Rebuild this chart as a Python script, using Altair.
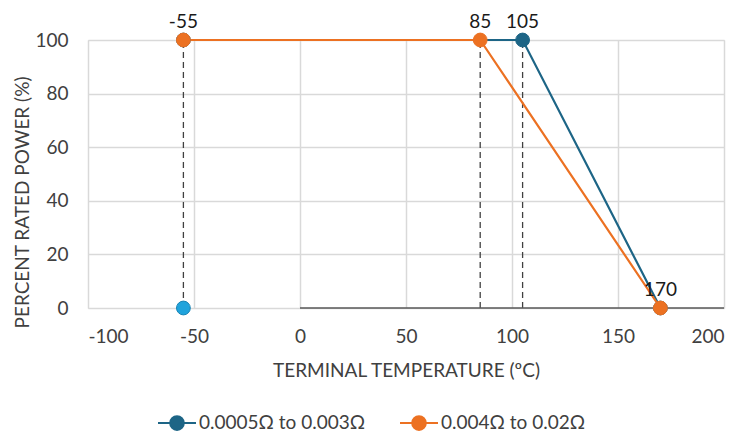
import altair as alt
import pandas as pd

series_names = ["0.0005Ω to 0.003Ω", "0.004Ω to 0.02Ω"]
series_colors = ["#1d6586", "#ec7122"]

temps_a = [-55, 105, 170]
power_a = [100, 100, 0]
temps_b = [-55, 85, 170]
power_b = [100, 100, 0]

extra_x = [-55]
extra_y = [0]

label_x = [-55, 85, 105, 170]
label_y = [100, 100, 100, 0]
label_text = ["-55", "85", "105", "170"]

dash_x = [-55, 85, 105]

x_ticks = [-100, -50, 0, 50, 100, 150, 200]
y_ticks = [0, 20, 40, 60, 80, 100]

FONT = "Lato"
FS = 19

series_df = pd.DataFrame(
    {
        "t": temps_a + temps_b,
        "p": power_a + power_b,
        "series": [series_names[0]] * len(temps_a) + [series_names[1]] * len(temps_b),
        "order": list(range(len(temps_a))) + list(range(len(temps_b))),
    }
)
extra_df = pd.DataFrame({"t": extra_x, "p": extra_y})
label_df = pd.DataFrame({"t": label_x, "p": label_y, "label": label_text})
dash_df = pd.DataFrame({"t": dash_x, "p0": [0] * len(dash_x), "p1": [100] * len(dash_x)})
axis_df = pd.DataFrame({"t0": [0], "t1": [200], "p": [0]})

xscale = alt.Scale(domain=[-100, 200], nice=False, zero=False)
yscale = alt.Scale(domain=[0, 100], nice=False)

x_axis = alt.Axis(
    values=x_ticks, title="TERMINAL TEMPERATURE (ºC)", grid=True, gridColor="#d9d9d9",
    gridWidth=1.5, domain=False, ticks=False, labelFont=FONT, labelFontSize=FS,
    labelColor="#404040", labelPadding=19, labelExpr="'' + datum.value",
    titleFont=FONT, titleFontSize=FS,
    titleFontWeight="normal", titleColor="#404040", titleY=62, titleBaseline="middle",
)
y_axis = alt.Axis(
    values=y_ticks, title="PERCENT RATED POWER (%)", grid=True, gridColor="#d9d9d9",
    gridWidth=1.5, domain=False, ticks=False, labelFont=FONT, labelFontSize=FS,
    labelColor="#404040", labelPadding=20, titleFont=FONT, titleFontSize=FS,
    titleFontWeight="normal", titleColor="#404040", titleX=-66, titleY=162,
    titleBaseline="middle",
)

color_scale = alt.Scale(domain=series_names, range=series_colors)

base_x = alt.X("t:Q", scale=xscale, axis=x_axis)
base_y = alt.Y("p:Q", scale=yscale, axis=y_axis)

grid_layer = alt.Chart(series_df).mark_point(opacity=0).encode(x=base_x, y=base_y)

dash_layer = alt.Chart(dash_df).mark_rule(
    color="#404040", strokeDash=[6, 4], strokeWidth=1.3
).encode(x=alt.X("t:Q", scale=xscale), y=alt.Y("p0:Q", scale=yscale), y2="p1:Q")

axis_layer = alt.Chart(axis_df).mark_rule(color="#595959", strokeWidth=1.5).encode(
    x=alt.X("t0:Q", scale=xscale), x2="t1:Q", y=alt.Y("p:Q", scale=yscale)
)

legend_symbol = "M-1,0H1M0.36,0A0.36,0.36,0,1,1,-0.36,0A0.36,0.36,0,1,1,0.36,0Z"
legend_def = alt.Legend(
    title=None, orient="none", direction="horizontal", legendX=69, legendY=363,
    symbolType=legend_symbol, symbolSize=1444, symbolStrokeWidth=2,
    labelFont=FONT, labelFontSize=FS, labelColor="#404040", labelOffset=2,
    labelLimit=400, columnPadding=30, symbolOpacity=1,
)

line_layer = alt.Chart(series_df).mark_line(strokeWidth=2.2).encode(
    x=alt.X("t:Q", scale=xscale),
    y=alt.Y("p:Q", scale=yscale),
    stroke=alt.Stroke("series:N", scale=color_scale, legend=legend_def),
    order="order:Q",
)

point_layer = alt.Chart(series_df).mark_point(
    filled=True, size=190, opacity=1, strokeWidth=1
).encode(
    x=alt.X("t:Q", scale=xscale),
    y=alt.Y("p:Q", scale=yscale),
    fill=alt.Fill("series:N", scale=color_scale, legend=legend_def),
    stroke=alt.Stroke("series:N", scale=color_scale, legend=legend_def),
)

extra_layer = alt.Chart(extra_df).mark_point(
    filled=True, size=190, opacity=1, color="#1fa3dc", stroke="#1784b5", strokeWidth=1
).encode(x=alt.X("t:Q", scale=xscale), y=alt.Y("p:Q", scale=yscale))

text_layer = alt.Chart(label_df).mark_text(
    font=FONT, fontSize=FS, color="#1a1a1a", dy=-18
).encode(x=alt.X("t:Q", scale=xscale), y=alt.Y("p:Q", scale=yscale), text="label:N")

chart = (
    alt.layer(grid_layer, dash_layer, axis_layer, line_layer, point_layer, extra_layer, text_layer)
    .properties(
        width=636, height=268,
        autosize=alt.AutoSizeParams(type="none"),
        padding={"left": 80, "top": 32, "right": 10, "bottom": 124},
    )
    .configure_view(stroke="#a6a6a6", strokeWidth=1)
    .configure(background="white")
)

chart.save("out.html", embed_options={"renderer": "svg", "actions": False})
